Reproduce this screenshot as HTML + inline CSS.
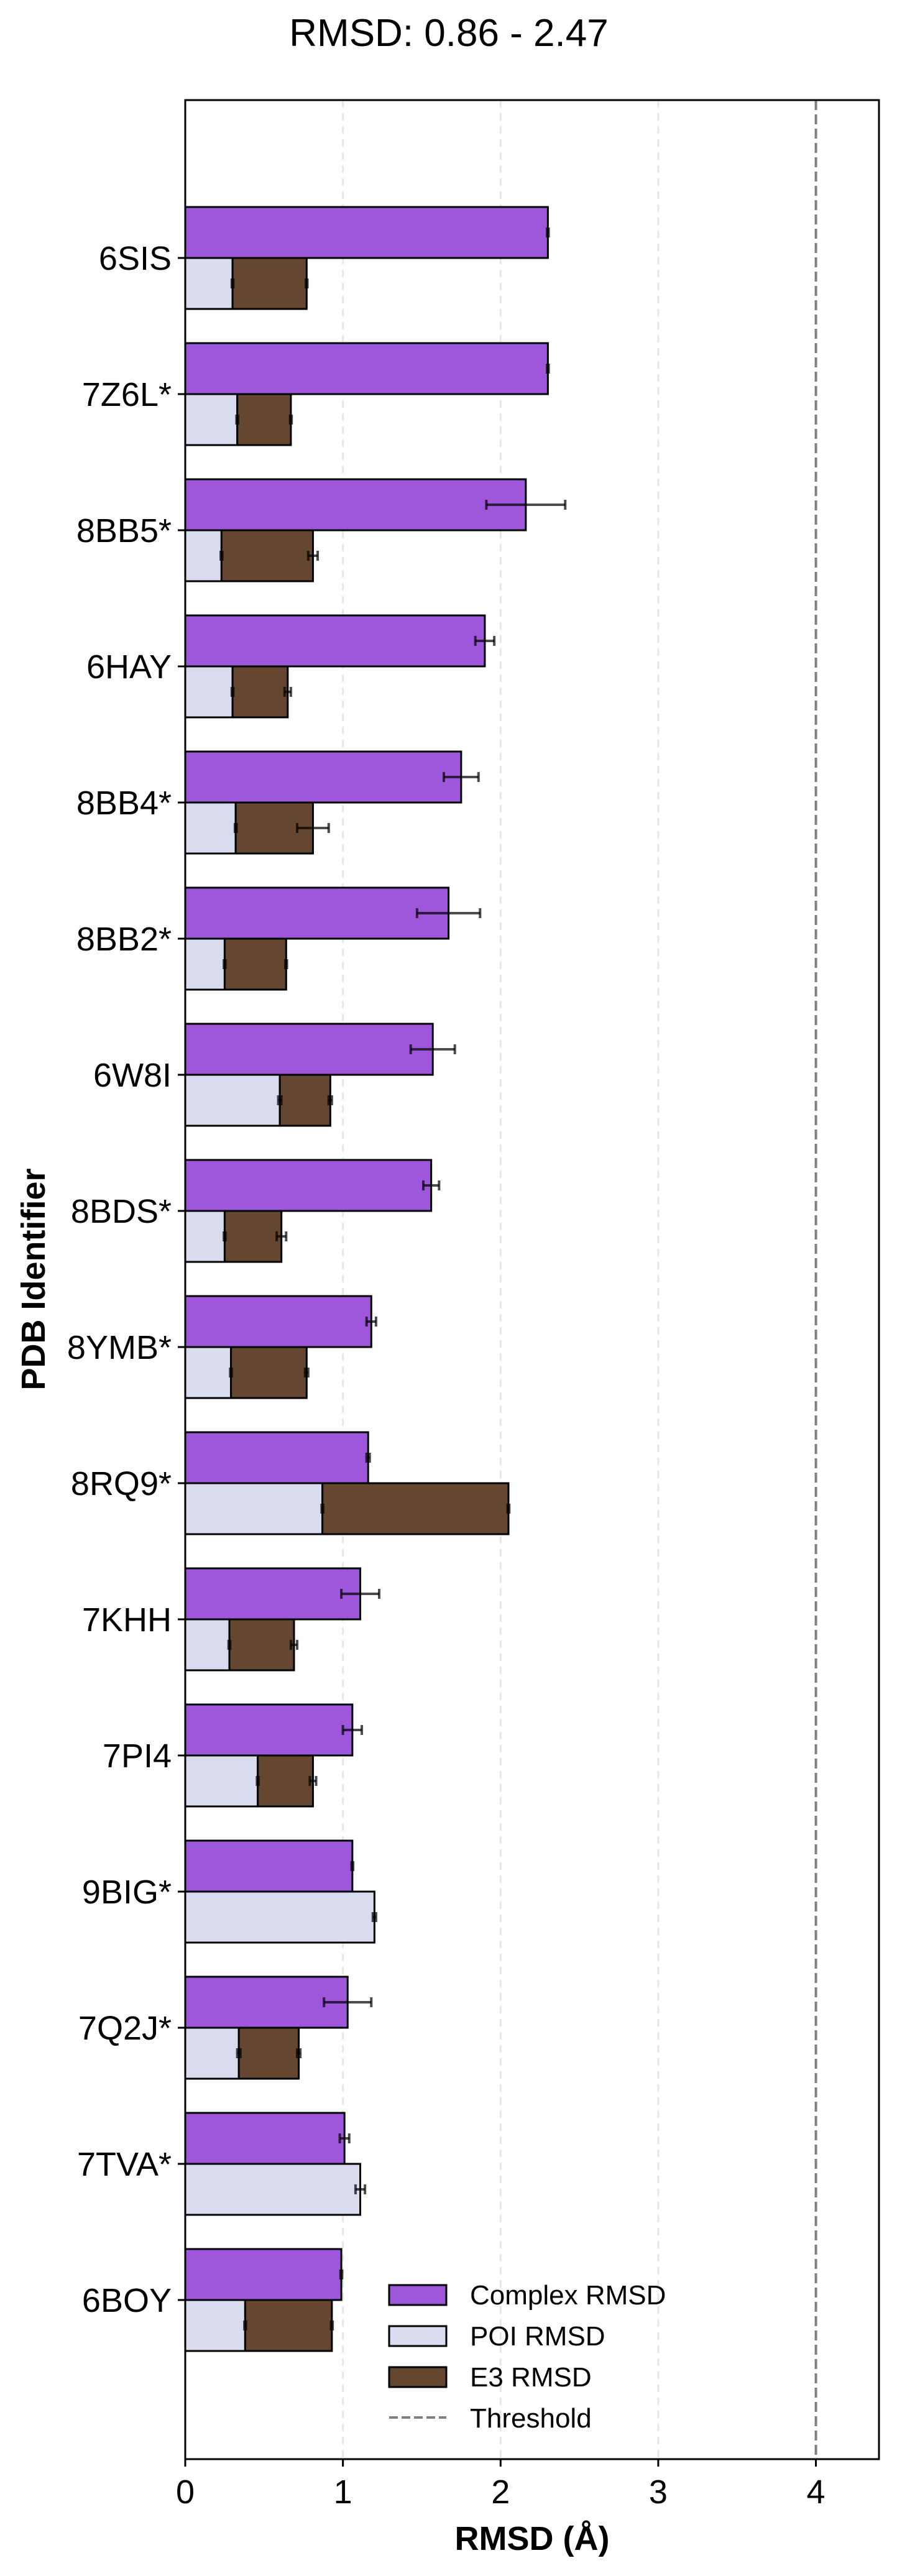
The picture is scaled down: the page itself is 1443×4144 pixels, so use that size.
<!DOCTYPE html>
<html><head><meta charset="utf-8"><style>
html,body{margin:0;padding:0;background:#fff}
svg{display:block;font-family:"Liberation Sans",Arial,sans-serif}
</style></head><body>
<svg id="chart" width="1443" height="4144" viewBox="0 0 1443 4144" xmlns="http://www.w3.org/2000/svg">
<text x="722" y="74" font-size="62" text-anchor="middle">RMSD: 0.86 - 2.47</text>
<g id="grid"></g>
<g id="bars"></g>
<g id="axes"></g>
<text x="856" y="4102" font-size="54" font-weight="bold" text-anchor="middle">RMSD (Å)</text>
<text transform="translate(72,2058) rotate(-90)" font-size="54" font-weight="bold" text-anchor="middle">PDB Identifier</text>
<g>
<rect x="626" y="3676" width="92" height="32" fill="#9e57db" stroke="#000" stroke-width="3"/>
<text x="756" y="3707" font-size="44">Complex RMSD</text>
<rect x="626" y="3742" width="92" height="32" fill="#d9dbef" stroke="#000" stroke-width="3"/>
<text x="756" y="3773" font-size="44">POI RMSD</text>
<rect x="626" y="3808" width="92" height="32" fill="#654630" stroke="#000" stroke-width="3"/>
<text x="756" y="3839" font-size="44">E3 RMSD</text>
<line x1="626" y1="3889" x2="718" y2="3889" stroke="#808080" stroke-width="4" stroke-dasharray="14,6"/>
<text x="756" y="3905" font-size="44">Threshold</text>
</g>
</svg>
<script>
const categories = ["6SIS","7Z6L*","8BB5*","6HAY","8BB4*","8BB2*","6W8I","8BDS*","8YMB*","8RQ9*","7KHH","7PI4","9BIG*","7Q2J*","7TVA*","6BOY"];
const complexVals = [2.30,2.30,2.16,1.90,1.75,1.67,1.57,1.56,1.18,1.16,1.11,1.06,1.06,1.03,1.01,0.99];
const complexErr = [0.005,0.005,0.25,0.06,0.11,0.20,0.14,0.05,0.03,0.01,0.12,0.06,0.005,0.15,0.03,0.005];
const poiVals = [0.30,0.33,0.23,0.30,0.32,0.25,0.60,0.25,0.29,0.87,0.28,0.46,1.20,0.34,1.11,0.38];
const poiErr = [0.005,0.005,0.005,0.005,0.005,0.005,0.01,0.005,0.005,0.005,0.005,0.005,0.01,0.01,0.03,0.005];
const e3Vals = [0.47,0.34,0.58,0.35,0.49,0.39,0.32,0.36,0.48,1.18,0.41,0.35,0,0.38,0,0.55];
const e3Err = [0.005,0.005,0.03,0.02,0.10,0.005,0.01,0.03,0.01,0.005,0.02,0.02,0,0.01,0,0.005];
const xTicks = [0,1,2,3,4];
const threshold = 4;
const xMax = 4.4;

const NS="http://www.w3.org/2000/svg";
const L=298, R=1414, T=161, B=3956, firstY=415, step=219, bh=82;
const xs=v=>L+(v/xMax)*(R-L);
const ys=i=>firstY+i*step;
function mk(tag,attrs,parent){const e=document.createElementNS(NS,tag);for(const k in attrs)e.setAttribute(k,attrs[k]);parent.appendChild(e);return e;}
const grid=document.getElementById('grid'), bars=document.getElementById('bars'), axes=document.getElementById('axes');
xTicks.forEach(t=>{ if(t>0 && t!==threshold){
  const g=mk('line',{x1:xs(t),x2:xs(t),y1:T,y2:B,stroke:'#e6e6e6','stroke-width':3,'stroke-dasharray':'12,9'},grid);
  
  
}});
function err(x,e,y){
  if(e<=0) return;
  const ln=mk('line',{x1:xs(x-e),x2:xs(x+e),y1:y,y2:y,stroke:'#000','stroke-opacity':0.7,'stroke-width':4},bars);
  
  
  [x-e,x+e].forEach(v=>{const c=mk('line',{x1:xs(v),x2:xs(v),y1:y-8,y2:y+8,stroke:'#000','stroke-opacity':0.7,'stroke-width':4},bars);
    
    });
}
categories.forEach((c,i)=>{
  const y=ys(i);
  const cb=mk('rect',{x:L,y:y-bh,width:xs(complexVals[i])-L,height:bh,fill:'#9e57db',stroke:'#000','stroke-width':3},bars);
  
  
  const pb=mk('rect',{x:L,y:y,width:xs(poiVals[i])-L,height:bh,fill:'#d9dbef',stroke:'#000','stroke-width':3},bars);
  
  
  if(e3Vals[i]>0){
    const eb=mk('rect',{x:xs(poiVals[i]),y:y,width:xs(poiVals[i]+e3Vals[i])-xs(poiVals[i]),height:bh,fill:'#654630',stroke:'#000','stroke-width':3},bars);
    
    
  }
  err(complexVals[i],complexErr[i],y-bh/2);
  err(poiVals[i],poiErr[i],y+bh/2);
  if(e3Vals[i]>0) err(poiVals[i]+e3Vals[i],e3Err[i],y+bh/2);
  const tk=mk('line',{x1:L-12,x2:L,y1:y,y2:y,stroke:'#000','stroke-width':3},axes);
  
  
  const tl=mk('text',{x:L-22,y:y+19,'font-size':54,'text-anchor':'end'},axes);
  tl.textContent=c;
  
  
});
const th=mk('line',{x1:xs(threshold),x2:xs(threshold),y1:T,y2:B,stroke:'#808080','stroke-width':4,'stroke-dasharray':'16,7'},bars);


const fr=mk('rect',{x:L,y:T,width:R-L,height:B-T,fill:'none',stroke:'#000','stroke-width':3},axes);


xTicks.forEach(t=>{
  const k=mk('line',{x1:xs(t),x2:xs(t),y1:B,y2:B+12,stroke:'#000','stroke-width':3},axes);
  
  
  const lb=mk('text',{x:xs(t),y:4027,'font-size':54,'text-anchor':'middle'},axes);
  lb.textContent=t;
  
  
});
</script>
</body></html>
